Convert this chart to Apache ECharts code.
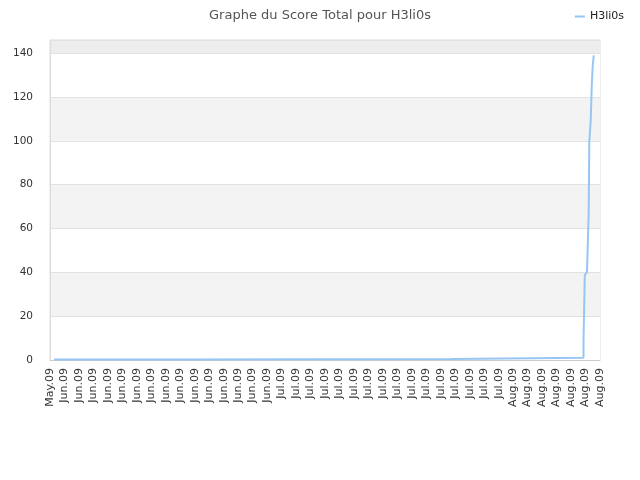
<!DOCTYPE html>
<html>
<head>
<meta charset="utf-8">
<script src="https://cdn.jsdelivr.net/npm/echarts@6/dist/echarts.min.js"></script>
<style>
  html, body { margin: 0; padding: 0; background: #fff; }
  #main { width: 640px; height: 480px; }
</style>
</head>
<body>
<div id="main"></div>
<script>
// libellés de l'axe x (un par graduation)
const tickLabels = [
  'May.09',
  'Jun.09', 'Jun.09', 'Jun.09', 'Jun.09', 'Jun.09', 'Jun.09', 'Jun.09', 'Jun.09',
  'Jun.09', 'Jun.09', 'Jun.09', 'Jun.09', 'Jun.09', 'Jun.09', 'Jun.09',
  'Jul.09', 'Jul.09', 'Jul.09', 'Jul.09', 'Jul.09', 'Jul.09', 'Jul.09', 'Jul.09',
  'Jul.09', 'Jul.09', 'Jul.09', 'Jul.09', 'Jul.09', 'Jul.09', 'Jul.09', 'Jul.09',
  'Aug.09', 'Aug.09', 'Aug.09', 'Aug.09', 'Aug.09', 'Aug.09', 'Aug.09'
]

// position sur l'axe x (en graduations) et score total
const xPos = [
  0.28, 9.44, 9.44, 27.75, 27.75, 36.86, 36.86, 36.95, 36.95, 37.1,
  37.22, 37.22, 37.26, 37.26, 37.36, 37.36, 37.43, 37.43, 37.50, 37.50,
  37.57, 37.57
]
const scores = [
  0.2, 0.2, 0.5, 0.5, 1, 1, 8.5, 9, 38.8, 40,
  40.3, 67.6, 68, 99.5, 100, 109.4, 110, 125, 125.5, 134.5,
  135, 139
]

const seriesName = 'H3li0s'
const titleText = 'Graphe du Score Total pour H3li0s'

const drawEcharts = (option, id) => {
  let dom = document.getElementById(id)
  if (dom === null) return
  let echart = echarts.init(dom)
  option && echart.setOption(option)
}

const option = {
  animation: false,
  textStyle: { fontFamily: 'DejaVu Sans' },
  title: {
    text: titleText,
    left: 'center',
    top: 4,
    textStyle: { fontSize: 13, fontWeight: 'normal', color: '#555' }
  },
  legend: {
    right: 11,
    top: 6,
    icon: 'rect',
    itemWidth: 10,
    itemHeight: 2,
    itemGap: 6,
    textStyle: { fontSize: 11, color: '#222' },
    data: [seriesName]
  },
  grid: {
    left: 50,
    right: 40,
    top: 40,
    bottom: 120,
    show: true,
    borderColor: '#ddd',
    borderWidth: 1
  },
  xAxis: {
    type: 'value',
    min: 0,
    max: tickLabels.length - 1,
    interval: 1,
    axisLine: { show: true, lineStyle: { color: '#ccc' } },
    axisTick: { show: false },
    splitLine: { show: false },
    axisLabel: {
      rotate: 90,
      margin: 8,
      fontSize: 11,
      color: '#333',
      showMinLabel: true,
      showMaxLabel: true,
      formatter: (v) => tickLabels[Math.round(v)] || ''
    }
  },
  yAxis: {
    type: 'value',
    min: 0,
    max: 146,
    interval: 20,
    axisLine: { show: true, lineStyle: { color: '#ddd' } },
    axisTick: { show: false },
    axisLabel: {
      fontSize: 10.5,
      color: '#333',
      margin: 17,
      showMaxLabel: false
    },
    splitLine: { show: true, lineStyle: { color: '#e2e2e2' } },
    splitArea: {
      show: true,
      areaStyle: {
        color: ['#ffffff', '#f3f3f3', '#ffffff', '#f3f3f3', '#ffffff', '#f3f3f3', '#ffffff', '#ededed']
      }
    }
  },
  series: [
    {
      name: seriesName,
      type: 'line',
      data: xPos.map((x, i) => [x, scores[i]]),
      showSymbol: false,
      lineStyle: { width: 2, color: '#97c6f3' },
      itemStyle: { color: '#97c6f3' }
    }
  ]
}

drawEcharts(option, 'main')
</script>
</body>
</html>
